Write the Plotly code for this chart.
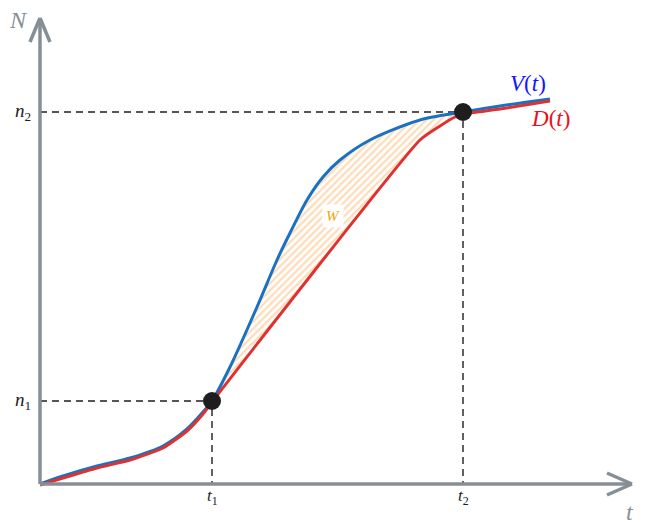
import plotly.graph_objects as go

# courbe d'arrivée V(t) (bleue) et de départ D(t) (rouge)
t_v = [0, 0.46, 1.14, 1.8, 2.46, 2.94, 3.26, 3.44, 3.8, 4.34, 4.74, 5.0, 5.34, 5.66, 6.0, 6.6, 7.6, 8.46, 9.2, 10.2]
n_v = [0, 0.16, 0.36, 0.52, 0.76, 1.1, 1.44, 1.66, 2.34, 3.54, 4.48, 5.02, 5.68, 6.14, 6.48, 6.88, 7.28, 7.44, 7.56, 7.7]
t_d = [0, 0.46, 1.14, 1.8, 2.46, 2.94, 3.26, 3.44, 7.6, 8.0, 8.3, 8.46, 9.2, 10.2]
n_d = [-0.02, 0.12, 0.32, 0.48, 0.72, 1.06, 1.4, 1.64, 6.88, 7.16, 7.34, 7.4, 7.5, 7.66]

# points remarquables
t_pts = [3.44, 8.46]
n_pts = [1.66, 7.44]
t_ticks = ["<i>t</i><sub>1</sub>", "<i>t</i><sub>2</sub>"]
n_ticks = ["<i>n</i><sub>1</sub>", "<i>n</i><sub>2</sub>"]

axis_col = "#868e96"
serif = "Liberation Serif"

fig = go.Figure()

# zone W entre les deux courbes
i1 = t_v.index(t_pts[0])
i2 = t_v.index(t_pts[1])
j1 = t_d.index(t_pts[0])
j2 = t_d.index(t_pts[1])
poly_t = t_v[i1:i2 + 1] + t_d[j1:j2 + 1][::-1]
poly_n = n_v[i1:i2 + 1] + n_d[j1:j2 + 1][::-1]
fig.add_trace(go.Scatter(
    x=poly_t, y=poly_n, mode="lines", fill="toself",
    line=dict(width=0), fillcolor="rgba(0,0,0,0)",
    fillpattern=dict(shape="/", fgcolor="#ffb870", bgcolor="rgba(0,0,0,0)", size=5, solidity=0.45),
    hoverinfo="skip", showlegend=False))

# lignes pointillées
for tp, np_ in zip(t_pts, n_pts):
    fig.add_trace(go.Scatter(x=[0, tp, tp], y=[np_, np_, 0], mode="lines",
                             line=dict(color="#1e1e1e", width=1.4, dash="7px,5px"),
                             hoverinfo="skip", showlegend=False))

fig.add_trace(go.Scatter(x=t_v, y=n_v, mode="lines", line=dict(color="#1971c2", width=3, shape="spline", smoothing=0.8),
                         name="V(t)", showlegend=False))
fig.add_trace(go.Scatter(x=t_d, y=n_d, mode="lines", line=dict(color="#e03131", width=3, shape="spline", smoothing=0.5),
                         name="D(t)", showlegend=False))

fig.add_trace(go.Scatter(x=t_pts, y=n_pts, mode="markers", marker=dict(color="#1e1e1e", size=18),
                         hoverinfo="skip", showlegend=False))

# axes avec flèches
ax = dict(type="line", xref="x", yref="y", line=dict(color=axis_col, width=3.5))
fig.add_shape(x0=0, y0=0, x1=0, y1=9.32, **ax)
fig.add_shape(x0=0, y0=0, x1=11.84, y1=0, **ax)
fig.add_shape(x0=-0.2, y0=8.84, x1=0, y1=9.32, **ax)
fig.add_shape(x0=0.2, y0=8.84, x1=0, y1=9.32, **ax)
fig.add_shape(x0=11.34, y0=0.22, x1=11.84, y1=0, **ax)
fig.add_shape(x0=11.34, y0=-0.22, x1=11.84, y1=0, **ax)

def label(x, y, text, color, size, **kw):
    fig.add_annotation(x=x, y=y, text=text, showarrow=False,
                       font=dict(family=serif, size=size, color=color), **kw)

label(-0.44, 9.28, "<i>N</i>", axis_col, 24)
label(11.8, -0.56, "<i>t</i>", axis_col, 24)
for tp, txt in zip(t_pts, t_ticks):
    label(tp, -0.26, txt, "#1e1e1e", 17)
for np_, txt in zip(n_pts, n_ticks):
    label(-0.34, np_, txt, "#1e1e1e", 19)
label(9.76, 8.02, "<i>V</i>(<i>t</i>)", "#1515ff", 23)
label(10.2, 7.32, "<i>D</i>(<i>t</i>)", "#e8101a", 23)
label(5.86, 5.36, "<i>W</i>", "#f5a300", 15, bgcolor="white", borderpad=3)

fig.update_layout(
    width=651, height=529,
    margin=dict(l=0, r=0, t=0, b=0),
    plot_bgcolor="white", paper_bgcolor="white",
    # décalage de 8 px pour compenser la marge de la page
    xaxis=dict(range=[-0.64, 12.38], visible=False),
    yaxis=dict(range=[-1.06, 9.52], visible=False),
)

fig.write_html("out.html")
